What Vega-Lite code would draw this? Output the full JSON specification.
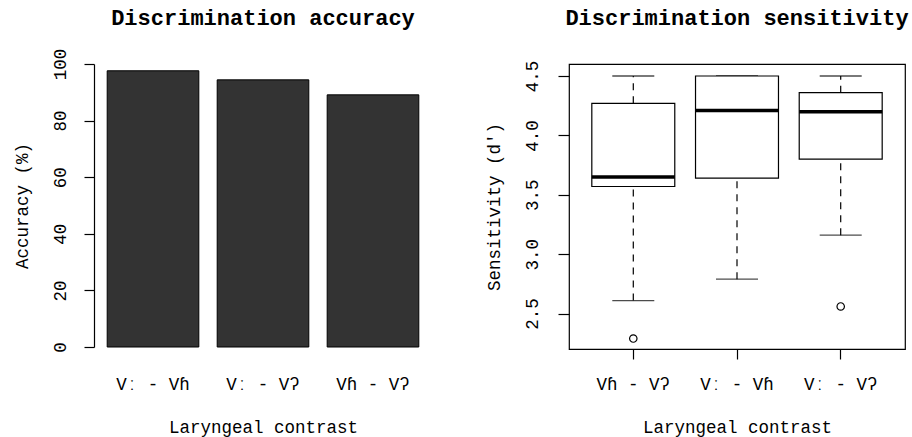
{
  "$schema": "https://vega.github.io/schema/vega-lite/v6.json",
  "background": "white",
  "padding": {"left": 12, "top": 6, "right": 4, "bottom": 0},
  "datasets": {
    "accuracy": [
      {"contrast": "Vː - Vɦ", "accuracy": 97.6},
      {"contrast": "Vː - Vʔ", "accuracy": 94.4},
      {"contrast": "Vɦ - Vʔ", "accuracy": 89.1}
    ],
    "sensitivity": [
      {"contrast": "Vɦ - Vʔ", "lower": 2.61, "q1": 3.57, "median": 3.65, "q3": 4.27, "upper": 4.5},
      {"contrast": "Vː - Vɦ", "lower": 2.79, "q1": 3.64, "median": 4.21, "q3": 4.5, "upper": 4.5},
      {"contrast": "Vː - Vʔ", "lower": 3.16, "q1": 3.8, "median": 4.2, "q3": 4.36, "upper": 4.5}
    ],
    "outliers": [
      {"contrast": "Vɦ - Vʔ", "dprime": 2.29},
      {"contrast": "Vː - Vʔ", "dprime": 2.56}
    ]
  },
  "hconcat": [
    {
      "title": {"text": "Discrimination accuracy", "frame": "group", "offset": 18},
      "width": 338,
      "height": 283,
      "view": {"stroke": null},
      "data": {"name": "accuracy"},
      "mark": {"type": "bar", "color": "#333333", "stroke": "#000000", "strokeWidth": 1},
      "encoding": {
        "x": {
          "field": "contrast",
          "type": "nominal",
          "sort": null,
          "scale": {"paddingInner": 0.167, "paddingOuter": 0.12},
          "axis": {
            "title": "Laryngeal contrast",
            "labelAngle": 0,
            "domain": false,
            "ticks": false,
            "tickSize": 0,
            "labelPadding": 28,
            "titlePadding": 26
          }
        },
        "y": {
          "field": "accuracy",
          "type": "quantitative",
          "scale": {"domain": [0, 100], "nice": false, "zero": true},
          "axis": {
            "title": "Accuracy (%)",
            "values": [0, 20, 40, 60, 80, 100],
            "labelAngle": -90,
            "labelAlign": "center",
            "labelBaseline": "bottom",
            "tickSize": 10,
            "labelPadding": 15,
            "titlePadding": 20
          }
        }
      }
    },
    {
      "title": {"text": "Discrimination sensitivity", "frame": "group", "offset": 30},
      "width": 336,
      "height": 285,
      "view": {"stroke": "#000000", "strokeWidth": 1.2},
      "encoding": {
        "x": {
          "field": "contrast",
          "type": "nominal",
          "sort": ["Vɦ - Vʔ", "Vː - Vɦ", "Vː - Vʔ"],
          "scale": {"domain": ["Vɦ - Vʔ", "Vː - Vɦ", "Vː - Vʔ"], "paddingInner": 0.2, "paddingOuter": 0.22},
          "axis": {
            "title": "Laryngeal contrast",
            "labelAngle": 0,
            "domain": false,
            "tickSize": 10,
            "labelPadding": 16,
            "titlePadding": 26
          }
        }
      },
      "layer": [
        {
          "data": {"name": "sensitivity"},
          "mark": {"type": "rule", "color": "#000000", "strokeWidth": 1.2, "strokeDash": [7, 6]},
          "encoding": {
            "y": {
              "field": "lower",
              "type": "quantitative",
              "scale": {"domain": [2.202, 4.601], "nice": false, "zero": false},
              "axis": {
                "title": "Sensitivity (d')",
                "values": [2.5, 3, 3.5, 4, 4.5],
                "format": ".1f",
                "domain": false,
                "labelAngle": -90,
                "labelAlign": "center",
                "labelBaseline": "bottom",
                "tickSize": 11,
                "labelPadding": 17,
                "titlePadding": 20
              }
            },
            "y2": {"field": "q1"}
          }
        },
        {
          "data": {"name": "sensitivity"},
          "mark": {"type": "rule", "color": "#000000", "strokeWidth": 1.2, "strokeDash": [7, 6]},
          "encoding": {
            "y": {"field": "q3", "type": "quantitative"},
            "y2": {"field": "upper"}
          }
        },
        {
          "data": {"name": "sensitivity"},
          "mark": {"type": "tick", "color": "#000000", "size": 42, "thickness": 1.3},
          "encoding": {"y": {"field": "lower", "type": "quantitative"}}
        },
        {
          "data": {"name": "sensitivity"},
          "mark": {"type": "tick", "color": "#000000", "size": 42, "thickness": 1.3},
          "encoding": {"y": {"field": "upper", "type": "quantitative"}}
        },
        {
          "data": {"name": "sensitivity"},
          "mark": {"type": "bar", "fill": "#ffffff", "stroke": "#000000", "strokeWidth": 1.2},
          "encoding": {
            "y": {"field": "q1", "type": "quantitative"},
            "y2": {"field": "q3"}
          }
        },
        {
          "data": {"name": "sensitivity"},
          "mark": {"type": "tick", "color": "#000000", "size": 83, "thickness": 3.5, "opacity": 1},
          "encoding": {"y": {"field": "median", "type": "quantitative"}}
        },
        {
          "data": {"name": "outliers"},
          "mark": {"type": "point", "shape": "circle", "filled": false, "color": "#000000", "size": 55, "strokeWidth": 1.2, "opacity": 1},
          "encoding": {"y": {"field": "dprime", "type": "quantitative"}}
        }
      ]
    }
  ],
  "spacing": 137,
  "bounds": "flush",
  "config": {
    "font": "Liberation Mono",
    "title": {"font": "Liberation Mono", "fontSize": 22, "fontWeight": "bold", "color": "#000000", "anchor": "middle"},
    "axis": {
      "labelFont": "Liberation Mono",
      "titleFont": "Liberation Mono",
      "labelFontSize": 17.5,
      "titleFontSize": 17.5,
      "titleFontWeight": "normal",
      "labelColor": "#000000",
      "titleColor": "#000000",
      "domainColor": "#000000",
      "tickColor": "#000000",
      "domainWidth": 1.2,
      "tickWidth": 1.2,
      "grid": false,
      "labelOverlap": false
    }
  }
}
